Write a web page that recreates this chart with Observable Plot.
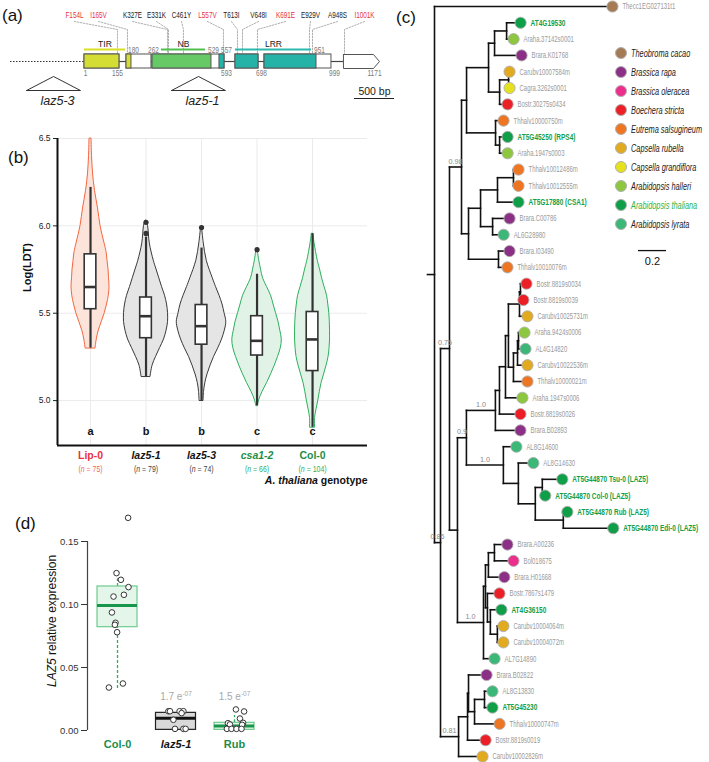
<!DOCTYPE html>
<html><head><meta charset="utf-8">
<script src="https://cdn.jsdelivr.net/npm/d3@7"></script>
<script src="https://cdn.jsdelivr.net/npm/@observablehq/plot@0.6"></script>
<style>
html,body{margin:0;padding:0;background:#fff;}
#fig{position:relative;width:709px;height:762px;overflow:hidden;font-family:"Liberation Sans",Arial,sans-serif;}
.plab{position:absolute;font-size:17px;color:#111;line-height:1;}
.legend{position:absolute;left:615px;top:43px;}
.legend .row{display:flex;align-items:center;height:19px;}
.legend .sw{width:12px;height:12px;border-radius:50%;box-sizing:border-box;border:1px solid #b0b0b0;margin-right:4px;flex:none;}
.legend .nm{display:inline-block;font-family:"Liberation Sans",Arial,sans-serif;font-style:italic;font-size:10.5px;color:#222;white-space:nowrap;transform:scaleX(0.7);transform-origin:left center;}
</style></head>
<body><div id="fig"></div>
<script>
// ===================== DATA =====================
// ---- (a) gene model (x in bp along the locus) ----
const UPSTREAM_START = -925;
const EXON_START = [0, 525, 850, 1887, 2250, 3237];
const EXON_END   = [437, 837, 1750, 2175, 3087, 3612];
const ARROW_TIP  = 3687;
const PART_START = [0, 525, 850, 1687, 1887, 2250];
const PART_END   = [437, 587, 1587, 1750, 2175, 2900];
const PART_DOMAIN = ["TIR", "TIR", "NB", "LRR", "LRR", "LRR"];
const DOMAIN_NAMES = ["TIR", "NB", "LRR"];
const DOMAIN_START = [0, 962, 1887];
const DOMAIN_END   = [512, 1512, 2837];
const UPPER_NUM    = ["180", "262", "529", "557", "951"];
const UPPER_NUM_BP = [612, 862, 1612, 1775, 2937];
const LOWER_NUM    = ["1", "155", "593", "698", "999", "1171"];
const LOWER_NUM_BP = [12, 412, 1775, 2212, 3125, 3625];
const MUT_LABELS = ["F154L","I165V","K327E","E331K","C461Y","L557V","T613I","V648I","K691E","E929V","A948S","I1001K"];
const MUT_RED    = [true, true, false, false, false, true, false, false, true, false, false, true];
const MUT_BP       = [412, 537, 1037, 1050, 1237, 1737, 1912, 1975, 2162, 2812, 2850, 3250];
const MUT_LABEL_BP = [-125, 175, 600, 900, 1212, 1537, 1837, 2175, 2512, 2825, 3162, 3500];
const INS_NAMES = ["laz5-3", "laz5-1"];
const INS_BP    = [-387, 1425];
const SCALE_BP  = 500;

// ---- (b) violin plot, Log(LDT) ----
const GENOTYPES = ["Lip-0", "laz5-1", "laz5-3", "csa1-2", "Col-0"];
const N_PLANTS  = [75, 79, 74, 66, 104];
const SIG_LETTERS = ["a", "b", "b", "c", "c"];
const B_Q1  = [5.523, 5.357, 5.320, 5.258, 5.169];
const B_MED = [5.650, 5.483, 5.426, 5.342, 5.350];
const B_Q3  = [5.837, 5.590, 5.547, 5.483, 5.507];
const B_WLO = [5.300, 5.137, 5.000, 4.970, 4.847];
const B_WHI = [6.220, 5.936, 5.873, 5.723, 5.955];
const B_OUT_GENO = ["laz5-1", "laz5-1", "laz5-3", "csa1-2"];
const B_OUT_VAL  = [6.020, 5.957, 5.990, 5.864];
// violin density profiles: [value, relative density]
const V_LIP0 = [[5.30,.20],[5.35,.25],[5.40,.33],[5.45,.45],[5.50,.57],[5.55,.66],[5.60,.73],[5.65,.76],[5.70,.74],[5.75,.72],[5.80,.68],[5.85,.64],[5.90,.56],[6.00,.40],[6.10,.30],[6.20,.18],[6.30,.10],[6.40,.06],[6.50,.04]];
const V_LAZ51 = [[5.137,.18],[5.20,.26],[5.25,.40],[5.30,.56],[5.35,.72],[5.40,.82],[5.45,.88],[5.50,.88],[5.55,.84],[5.60,.76],[5.65,.64],[5.70,.53],[5.75,.42],[5.80,.31],[5.90,.15],[6.00,.08],[6.03,.02]];
const V_LAZ53 = [[5.00,.08],[5.05,.10],[5.10,.15],[5.15,.24],[5.20,.36],[5.25,.50],[5.30,.67],[5.35,.82],[5.40,.93],[5.45,.99],[5.50,.92],[5.55,.84],[5.60,.72],[5.65,.58],[5.70,.45],[5.80,.21],[5.90,.09],[5.99,.02]];
const V_CSA12 = [[4.97,.03],[5.00,.08],[5.05,.22],[5.10,.40],[5.15,.56],[5.20,.71],[5.25,.84],[5.30,.95],[5.35,.99],[5.40,.93],[5.45,.86],[5.50,.76],[5.55,.66],[5.60,.56],[5.65,.40],[5.70,.24],[5.75,.16],[5.80,.09],[5.865,.02]];
const V_COL0 = [[4.847,.10],[4.90,.10],[4.95,.16],[5.00,.23],[5.05,.29],[5.10,.36],[5.15,.46],[5.20,.56],[5.25,.64],[5.30,.68],[5.35,.70],[5.40,.70],[5.45,.69],[5.50,.67],[5.55,.63],[5.60,.58],[5.65,.48],[5.70,.38],[5.75,.30],[5.80,.21],[5.90,.08],[5.955,.03]];
const VIOLINS = [V_LIP0, V_LAZ51, V_LAZ53, V_CSA12, V_COL0];

// ---- (d) LAZ5 relative expression ----
const D_GROUPS = ["Col-0", "laz5-1", "Rub"];
const D_Q1  = [0.0820, 0.0005, 0.0005];
const D_MED = [0.0992, 0.0098, 0.0035];
const D_Q3  = [0.1143, 0.0140, 0.0061];
const D_WLO = [0.0333, 0.0005, 0.0005];
const D_WHI = [0.1205, 0.0140, 0.0119];
const D_PVAL = ["", "1.7 e-07", "1.5 e-07"];
const D_COL0_VAL = [0.1688, 0.1249, 0.1196, 0.1138, 0.1077, 0.1063, 0.0937, 0.0855, 0.0839, 0.0780, 0.0373, 0.0341];
const D_COL0_JIT = [0.53, -0.05, 0.17, 0.55, 0.32, -0.20, -0.28, -0.10, -0.13, -0.02, 0.27, -0.43];
const D_LAZ_VAL = [0.0153, 0.0153, 0.0153, 0.0153, 0.0138, 0.0085, 0.0013, 0.0013, 0.0013];
const D_LAZ_JIT = [-0.38, -0.30, 0.18, 0.37, 0.28, -0.13, -0.05, 0.37, 0.48];
const D_RUB_VAL = [0.0167, 0.0151, 0.0095, 0.0061, 0.0058, 0.0048, 0.0045, 0.0013, 0.0013, 0.0013, 0.0013];
const D_RUB_JIT = [0.07, 0.48, 0.27, 0.43, -0.33, -0.23, 0.38, -0.38, -0.15, 0.10, 0.35];

// ---- (c) phylogeny: leaf = [name, branch length]; node = [branch length, support, children] ----
const TREE = [0.05, null, [
  ["Thecc1EG027131t1", 1.271],
  [0.043, "0.86", [
    [0.064, "0.76", [
      [0.086, "0.98", [
        [0.036, null, [
          [0.157, null, [
            [0.043, null, [
              [0.086, null, [["AT4G19530", 0.100], ["Araha.37142s0001", 0.050]]],
              ["Brara.K01768", 0.193]]],
            [0.079, null, [
              [0.064, null, [["Carubv10007584m", 0.007], ["Cagra.3262s0001", 0.007]]],
              ["Bostr.30275s0434", 0.057]]]]],
          [0.207, null, [
            ["Thhalv10000750m", 0.057],
            [0.029, null, [["AT5G45250 (RPS4)", 0.057], ["Araha.1947s0003", 0.057]]]]]]],
        [0.050, null, [
          [0.086, null, [
            [0.121, null, [
              [0.114, null, [["Thhalv10012486m", 0.036], ["Thhalv10012555m", 0.036]]],
              ["AT5G17880 (CSA1)", 0.150]]],
            [0.086, null, [["Brara.C00786", 0.121], ["AL6G28980", 0.079]]]]],
          [0.214, null, [["Brara.I03490", 0.079], ["Thhalv10010076m", 0.064]]]]]]],
      [0.057, null, [
        [0.064, "0.9", [
          [0.207, "1.0", [
            [0.029, null, [
              [0.043, null, [
                [0.021, null, [
                  [0.079, null, [
                    [0.007, null, [["Bostr.8819s0034", 0.043], ["Bostr.8819s0039", 0.021]]],
                    ["Carubv10025731m", 0.057]]],
                  [0.036, null, [
                    [0.029, null, [
                      [0.007, null, [["Araha.9424s0006", 0.043], ["AL4G14820", 0.050]]],
                      ["Carubv10022536m", 0.071]]],
                    ["Thhalv10000021m", 0.100]]]]],
                ["Araha.1947s0006", 0.121]]],
              ["Bostr.8819s0026", 0.150]]],
            ["Brara.B02893", 0.179]]],
          [0.264, "1.0", [
            ["AL8G14600", 0.093],
            [0.107, null, [
              ["AL8G14630", 0.107],
              [0.121, null, [
                [0.050, null, [["AT5G44870 Tsu-0 (LAZ5)", 0.143], ["AT5G44870 Col-0 (LAZ5)", 0.021]]],
                [0.200, null, [["AT5G44870 Rub (LAZ5)", 0.029], ["AT5G44870 Edi-0 (LAZ5)", 0.357]]]]]]]]]]],
        [0.186, "1.0", [
          [0.014, null, [
            [0.021, null, [
              [0.043, null, [["Brara.A00236", 0.093], ["Bol018675", 0.136]]],
              ["Brara.H01668", 0.114]]],
            [0.014, null, [
              ["Bostr.7867s1479", 0.086],
              [0.021, null, [
                ["AT4G36150", 0.079],
                [0.050, null, [["Carubv10004064m", 0.043], ["Carubv10004072m", 0.043]]]]]]]]],
          ["AL7G14890", 0.079]]]]]]],
    [0.129, "0.81", [
      [0.064, null, [
        [0.007, null, [
          ["Brara.B02822", 0.129],
          [0.043, null, [
            [0.071, null, [["AL8G13830", 0.057], ["AT5G45230", 0.057]]],
            ["Thhalv10000747m", 0.179]]]]],
        ["Bostr.8819s0019", 0.129]]],
      ["Carubv10002826m", 0.171]]]]]]];
const SPECIES = ["Theobroma cacao","Brassica rapa","Brassica oleracea","Boechera stricta","Eutrema salsugineum","Capsella rubella","Capsella grandiflora","Arabidopsis halleri","Arabidopsis thaliana","Arabidopsis lyrata"];
const SPECIES_PREFIX = ["Thecc","Brara","Bol","Bostr","Thhalv","Carubv","Cagra","Araha","AT","AL"];
const SCALE_BAR_LEN = 0.2;

// ===================== STYLE =====================
const SANS = '"Liberation Sans",Arial,sans-serif';
// condensed text: an unknown first family carries the horizontal compression factor
const COND = f => `"cond${f}","Liberation Sans",Arial,sans-serif`;
const SPECIES_COLORS = ["#A57B55","#8C2F86","#EC2E8C","#EC1F27","#EE7623","#E2AA1E","#E6E11D","#8DC63F","#0E9F48","#3BB877"];
const DOMAIN_COLORS = {TIR:"#D4DD34", NB:"#67C966", LRR:"#25B3A7"};
const DOMAIN_LINE = {TIR:"#D9E021", NB:"#52C04F", LRR:"#2DB7AE"};
const RED = "#E8333F", GREEN = "#1C8E4A";
const SVGNS = "http://www.w3.org/2000/svg";

const fig = document.getElementById("fig");
function place(node, left, top){ node.style.position="absolute"; node.style.left=left+"px"; node.style.top=top+"px"; fig.appendChild(node); condense(node); return node; }
function condense(svg){
  svg.querySelectorAll("[font-family]").forEach(g=>{
    const m = /cond([\d.]+)/.exec(g.getAttribute("font-family"));
    if (!m) return;
    const f = +m[1];
    g.querySelectorAll("text").forEach(t=>{
      const w = t.getComputedTextLength();
      if (w>0){ t.setAttribute("textLength", (w*f).toFixed(2)); t.setAttribute("lengthAdjust","spacingAndGlyphs"); }
    });
  });
}
function restyle(svg, full, pieces){
  svg.querySelectorAll("text").forEach(t=>{
    if (t.textContent !== full) return;
    while (t.firstChild) t.removeChild(t.firstChild);
    for (const [s,attrs] of pieces){ const ts=document.createElementNS(SVGNS,"tspan"); ts.textContent=s; for (const k in attrs) ts.setAttribute(k, attrs[k]); t.appendChild(ts); }
  });
}
function mixItalic(svg, full, part){
  const k = full.indexOf(part);
  restyle(svg, full, [[full.slice(0,k),{}],[part,{"font-style":"italic"}],[full.slice(k+part.length),{}]].filter(p=>p[0]));
}
function label(txt, left, top){ const d=document.createElement("div"); d.className="plab"; d.textContent=txt; d.style.left=left+"px"; d.style.top=top+"px"; fig.appendChild(d); }

// ===================== (a) =====================
{
  const L = {mutText:15, leadTop:21, leadBend:29, leadEnd:53, domText:43.5, domLine:49, upNum:50, exTop:54, gene:61, exBot:68, lowNum:73, triTop:76, triBase:90, insText:100, sbText:91, sbLine:98};
  const TRI_HALF = 337;
  const SB_START = 3375;
  const exons = EXON_START.slice(0,5).map((s,i)=>({s, e:EXON_END[i]}));
  const introns = EXON_START.slice(1).map((s,i)=>({s:EXON_END[i], e:s}));
  const parts = PART_START.map((s,i)=>({s, e:PART_END[i], c:DOMAIN_COLORS[PART_DOMAIN[i]]}));
  const arrow = [[EXON_START[5],L.exTop],[EXON_END[5],L.exTop],[ARROW_TIP,L.gene],[EXON_END[5],L.exBot],[EXON_START[5],L.exBot],[EXON_START[5],L.exTop]].map(([x,y])=>({x,y}));
  const domains = DOMAIN_NAMES.map((n,i)=>({n, s:DOMAIN_START[i], e:DOMAIN_END[i], c:DOMAIN_LINE[n]}));
  const leaders = MUT_LABELS.flatMap((m,i)=>[{m,x:MUT_LABEL_BP[i],y:L.leadTop},{m,x:MUT_BP[i],y:L.leadBend},{m,x:MUT_BP[i],y:L.leadEnd}]);
  const muts = MUT_LABELS.map((m,i)=>({m, x:MUT_LABEL_BP[i], c: MUT_RED[i]?RED:"#222"}));
  const tris = INS_NAMES.flatMap((n,i)=>[{n,x:INS_BP[i]-TRI_HALF,y:L.triBase},{n,x:INS_BP[i],y:L.triTop},{n,x:INS_BP[i]+TRI_HALF,y:L.triBase},{n,x:INS_BP[i]-TRI_HALF,y:L.triBase}]);
  const svg = Plot.plot({
    width:400, height:110, margin:0,
    x:{domain:[-1050,3950], axis:null},
    y:{domain:[0,110], range:[0,110], axis:null},
    color:{type:"identity"},
    style:{fontFamily:SANS, fontSize:"9px", background:"transparent", color:"#222"},
    marks:[
      Plot.line(leaders,{x:"x",y:"y",z:"m",stroke:"#9c9c9c",strokeWidth:0.8,strokeDasharray:"1.6,1.4"}),
      Plot.text(muts,{x:"x",y:()=>L.mutText,text:"m",fill:"c",fontSize:8.2,fontFamily:COND(0.78)}),
      Plot.ruleY(domains,{y:()=>L.domLine,x1:"s",x2:"e",stroke:"c",strokeWidth:2}),
      Plot.text(domains,{x:d=>(d.s+d.e)/2,y:()=>L.domText,text:"n",fontSize:9.5,fill:"#222",fontFamily:COND(0.9)}),
      Plot.text(UPPER_NUM,{x:(d,i)=>UPPER_NUM_BP[i],y:()=>L.upNum,text:d=>d,fill:"#7a7a7a",fontSize:8.2,fontFamily:COND(0.8)}),
      Plot.ruleY([L.gene],{x1:UPSTREAM_START,x2:EXON_START[0],stroke:"#333",strokeWidth:1,strokeDasharray:"1.5,1.5"}),
      Plot.ruleY(introns,{y:()=>L.gene,x1:"s",x2:"e",stroke:"#444",strokeWidth:1.2}),
      Plot.rect(exons,{x1:"s",x2:"e",y1:()=>L.exTop,y2:()=>L.exBot,fill:"white",stroke:"#555",strokeWidth:1}),
      Plot.line(arrow,{x:"x",y:"y",fill:"white",stroke:"#555",strokeWidth:1}),
      Plot.rect(parts,{x1:"s",x2:"e",y1:()=>L.exTop,y2:()=>L.exBot,fill:"c",stroke:"#555",strokeWidth:1}),
      Plot.text(LOWER_NUM,{x:(d,i)=>LOWER_NUM_BP[i],y:()=>L.lowNum,text:d=>d,fill:"#7a7a7a",fontSize:8.2,fontFamily:COND(0.8)}),
      Plot.line(tris,{x:"x",y:"y",z:"n",stroke:"#333",strokeWidth:1}),
      Plot.text(INS_NAMES,{x:(d,i)=>INS_BP[i],y:()=>L.insText,text:d=>d,dx:4,fontSize:12.5,fontStyle:"italic",fill:"#222",fontFamily:SANS}),
      Plot.ruleY([L.sbLine],{x1:SB_START,x2:SB_START+SCALE_BP,stroke:"#222",strokeWidth:1}),
      Plot.text([SCALE_BP+" bp"],{x:SB_START+SCALE_BP/2,y:()=>L.sbText,text:d=>d,fontSize:10.5,fill:"#222",fontFamily:SANS})
    ]
  });
  place(svg, 0, 0);
}

// ===================== (b) =====================
{
  const XB = [-0.595, 4.99], YB = [4.743, 6.5];
  const VSCALE = 25/55.5, BOX_HW = 0.105;
  const FILLS = ["#FCE4DA","#E5E5E5","#E5E5E5","#E1F3E6","#E1F3E6"];
  const STROKES = ["#F2673F","#3a3a3a","#3a3a3a","#2EAE5E","#2EAE5E"];
  const LABEL_COL = [RED,"#151515","#151515",GREEN,GREEN];
  const N_COL = ["#F26A5A","#444","#444","#2EAE5E","#2EAE5E"];
  const ITALIC = [false,true,true,true,false];
  const idx = GENOTYPES.map((g,i)=>i);
  const vio = GENOTYPES.flatMap((g,i)=>VIOLINS[i].map(([v,d])=>({g,i,v,d,f:FILLS[i],s:STROKES[i]})));
  const box = GENOTYPES.map((g,i)=>({g,i,q1:B_Q1[i],med:B_MED[i],q3:B_Q3[i],lo:B_WLO[i],hi:B_WHI[i]}));
  const outs = B_OUT_GENO.map((g,k)=>({i:GENOTYPES.indexOf(g), v:B_OUT_VAL[k]}));
  const xl = idx.map(i=>({i, t:GENOTYPES[i], c:LABEL_COL[i], it:ITALIC[i], n:"(n = "+N_PLANTS[i]+")", nc:N_COL[i], s:SIG_LETTERS[i]}));
  const svg = Plot.plot({
    width:380, height:385, marginLeft:57, marginRight:13, marginTop:33, marginBottom:45,
    x:{domain:XB, axis:null},
    y:{domain:YB, ticks:[5,5.5,6,6.5], tickFormat:".1f", tickSize:4, tickPadding:3, label:null},
    color:{type:"identity"},
    style:{fontFamily:SANS, fontSize:"8.5px", background:"transparent", color:"#222"},
    marks:[
      Plot.ruleY([5,5.5,6,6.5],{stroke:"#ebebeb",strokeWidth:1}),
      Plot.ruleX(idx,{x:d=>d,stroke:"#ebebeb",strokeWidth:1}),
      Plot.areaX(vio,{y:"v",x1:d=>d.i-d.d*VSCALE,x2:d=>d.i+d.d*VSCALE,z:"g",fill:"f",stroke:"s",strokeWidth:1,curve:"catmull-rom"}),
      Plot.ruleX(box,{x:"i",y1:"q3",y2:"hi",stroke:"#333",strokeWidth:2.2}),
      Plot.ruleX(box,{x:"i",y1:"lo",y2:"q1",stroke:"#333",strokeWidth:2.2}),
      Plot.rect(box,{x1:d=>d.i-BOX_HW,x2:d=>d.i+BOX_HW,y1:"q1",y2:"q3",fill:"white",stroke:"#333",strokeWidth:1.6}),
      Plot.ruleY(box,{y:"med",x1:d=>d.i-BOX_HW,x2:d=>d.i+BOX_HW,stroke:"#333",strokeWidth:2.6}),
      Plot.dot(outs,{x:"i",y:"v",r:2.6,fill:"#333"}),
      Plot.ruleX([XB[0]],{y1:YB[0],y2:YB[1],stroke:"#111",strokeWidth:2}),
      Plot.ruleY([YB[0]],{x1:XB[0],x2:XB[1],stroke:"#111",strokeWidth:2}),
      Plot.text(xl,{x:"i",frameAnchor:"bottom",dy:-11,text:"s",fontWeight:"bold",fontSize:11,fill:"#111"}),
      Plot.text(xl.filter(d=>!d.it),{x:"i",frameAnchor:"bottom",dy:13,text:"t",fill:"c",fontWeight:"bold",fontSize:10.5}),
      Plot.text(xl.filter(d=>d.it),{x:"i",frameAnchor:"bottom",dy:13,text:"t",fill:"c",fontWeight:"bold",fontStyle:"italic",fontSize:10.5}),
      Plot.text(xl,{x:"i",frameAnchor:"bottom",dy:26,text:"n",fill:"nc",fontSize:8.2,fontFamily:COND(0.85)}),
      Plot.text(["A. thaliana genotype"],{frameAnchor:"bottom-right",dy:38,textAnchor:"end",text:d=>d,fontWeight:"bold",fontSize:10.5,fill:"#111"}),
      Plot.text(["Log(LDT)"],{x:XB[0],y:YB[0]+0.58*(YB[1]-YB[0]),rotate:-90,dx:-30,textAnchor:"middle",text:d=>d,fontWeight:"bold",fontSize:11,fill:"#111"})
    ]
  });
  N_PLANTS.forEach(n=>mixItalic(svg,"(n = "+n+")","n"));
  mixItalic(svg,"A. thaliana genotype","A. thaliana");
  place(svg, 0, 105);
}

// ===================== (d) =====================
{
  const XD = [-0.513, 4.154], YD = [0, 0.15], BOX_HW = 0.342;
  const BOX_FILL = ["#E4F5E9","#D9D9D9","#E4F5E9"];
  const BOX_STROKE = ["#6DCB8D","#222","#6DCB8D"];
  const MED_COL = ["#17954A","#111","#17954A"];
  const LAB_COL = [GREEN,"#151515",GREEN];
  const box = D_GROUPS.map((g,i)=>({g,i,q1:D_Q1[i],med:D_MED[i],q3:D_Q3[i],lo:D_WLO[i],hi:D_WHI[i],f:BOX_FILL[i],s:BOX_STROKE[i],m:MED_COL[i],p:D_PVAL[i],c:LAB_COL[i]}));
  const pts = [[D_COL0_VAL,D_COL0_JIT],[D_LAZ_VAL,D_LAZ_JIT],[D_RUB_VAL,D_RUB_JIT]].flatMap(([vals,jit],i)=>vals.map((v,k)=>({i,v,j:jit[k]})));
  const svg = Plot.plot({
    width:380, height:272, marginLeft:87, marginRight:20, marginTop:51, marginBottom:32,
    x:{domain:XD, axis:null},
    y:{domain:YD, ticks:[0,0.05,0.1,0.15], tickFormat:".2f", tickSize:6, tickPadding:3, label:null},
    color:{type:"identity"},
    style:{fontFamily:SANS, fontSize:"9.5px", background:"transparent", color:"#333"},
    marks:[
      Plot.ruleX([XD[0]],{y1:YD[0],y2:YD[1],stroke:"#444",strokeWidth:1.2}),
      Plot.ruleX(box.filter(d=>d.hi>d.q3),{x:"i",y1:"q3",y2:"hi",stroke:"#2EAE5E",strokeWidth:1.3,strokeDasharray:"3,2"}),
      Plot.ruleX(box.filter(d=>d.lo<d.q1),{x:"i",y1:"lo",y2:"q1",stroke:"#2EAE5E",strokeWidth:1.3,strokeDasharray:"3,2"}),
      Plot.rect(box,{x1:d=>d.i-BOX_HW,x2:d=>d.i+BOX_HW,y1:"q1",y2:"q3",fill:"f",stroke:"s",strokeWidth:1.2}),
      Plot.ruleY(box,{y:"med",x1:d=>d.i-BOX_HW,x2:d=>d.i+BOX_HW,stroke:"m",strokeWidth:3}),
      Plot.dot(pts,{x:d=>d.i+d.j*BOX_HW,y:"v",r:2.8,fill:"white",stroke:"#333",strokeWidth:1}),
      Plot.text(box.filter(d=>d.p),{x:"i",frameAnchor:"bottom",dy:-31,text:"p",fill:"#a8a8a8",fontSize:10}),
      Plot.text(box.filter(d=>d.g!=="laz5-1"),{x:"i",frameAnchor:"bottom",dy:17,text:"g",fill:"c",fontWeight:"bold",fontSize:11,fontFamily:SANS}),
      Plot.text(box.filter(d=>d.g==="laz5-1"),{x:"i",frameAnchor:"bottom",dy:17,text:"g",fill:"c",fontWeight:"bold",fontStyle:"italic",fontSize:11,fontFamily:SANS}),
      Plot.text(["LAZ5 relative expression"],{x:XD[0],y:YD[0]+0.58*(YD[1]-YD[0]),rotate:-90,dx:-35,textAnchor:"middle",text:d=>d,fontSize:12,fill:"#111",fontFamily:SANS})
    ]
  });
  mixItalic(svg,"LAZ5 relative expression","LAZ5");
  D_PVAL.filter(p=>p).forEach(p=>{
    const [base, exp] = p.split("e");
    restyle(svg, p, [[base+"e",{}],[exp,{"font-size":"6.5","dy":"-4"}]]);
  });
  place(svg, 0, 490);
}

// ===================== (c) =====================
{
  const nodes = []; let leafIdx = 0;
  function walk(n, parentX){
    if (typeof n[0] === "string"){
      const nd = {name:n[0], px:parentX, x:parentX+n[1], y:leafIdx++, leaf:true};
      nodes.push(nd); return nd;
    }
    const [len, support, kids] = n;
    const nd = {support, px:parentX, x:parentX+len, leaf:false};
    const cs = kids.map(k=>walk(k, nd.x));
    nd.y1 = cs[0].y; nd.y2 = cs[cs.length-1].y; nd.y = (nd.y1+nd.y2)/2;
    nodes.push(nd); return nd;
  }
  walk(TREE, 0);
  const leaves = nodes.filter(d=>d.leaf);
  const internal = nodes.filter(d=>!d.leaf);
  const spColor = name => { const k = SPECIES_PREFIX.findIndex(p=>name.startsWith(p)); return SPECIES_COLORS[k]; };
  const isAT = name => name.startsWith("AT");
  const SB_X = 1.507, SB_Y = 14.97;
  const svg = Plot.plot({
    width:329, height:762, marginLeft:47, marginRight:0, marginTop:6, marginBottom:6,
    x:{domain:[0, 282/140], axis:null},
    y:{domain:[0, 46], reverse:true, axis:null},
    color:{type:"identity"},
    style:{fontFamily:SANS, fontSize:"9px", background:"transparent"},
    marks:[
      Plot.link(nodes,{x1:"px",x2:"x",y1:"y",y2:"y",stroke:"#111",strokeWidth:1.6,strokeLinecap:"square"}),
      Plot.link(internal,{x1:"x",x2:"x",y1:"y1",y2:"y2",stroke:"#111",strokeWidth:1.6,strokeLinecap:"square"}),
      Plot.text(internal.filter(d=>d.support),{x:d=>(d.px+d.x)/2,y:"y",text:"support",dy:-6,fill:"#8a8a8a",fontSize:8,fontFamily:COND(0.9)}),
      Plot.dot(leaves,{x:"x",y:"y",r:5.6,fill:d=>spColor(d.name),stroke:"#b0b0b0",strokeWidth:0.9}),
      Plot.text(leaves.filter(d=>!isAT(d.name)),{x:"x",y:"y",text:"name",dx:10,textAnchor:"start",fill:"#9a9a9a",fontSize:9,fontFamily:COND(0.66)}),
      Plot.text(leaves.filter(d=>isAT(d.name)),{x:"x",y:"y",text:"name",dx:10,textAnchor:"start",fill:"#13A04A",fontWeight:"bold",fontSize:9,fontFamily:COND(0.72)}),
      Plot.ruleY([SB_Y],{x1:SB_X,x2:SB_X+SCALE_BAR_LEN,stroke:"#111",strokeWidth:1.3}),
      Plot.text([String(SCALE_BAR_LEN)],{x:SB_X+SCALE_BAR_LEN/2,y:SB_Y,dy:11,text:d=>d,fontSize:11,fill:"#111",fontFamily:SANS})
    ]
  });
  place(svg, 380, 0);

  const lg = document.createElement("div"); lg.className = "legend";
  SPECIES.forEach((s,i)=>{
    const r = document.createElement("div"); r.className="row";
    const sw = document.createElement("span"); sw.className="sw"; sw.style.background=SPECIES_COLORS[i];
    const nm = document.createElement("span"); nm.className="nm"; nm.textContent=s;
    if (s==="Arabidopsis thaliana") nm.style.color="#2FB34A";
    r.appendChild(sw); r.appendChild(nm); lg.appendChild(r);
  });
  fig.appendChild(lg);
}

label("(a)", 2, 7);
label("(b)", 8, 149);
label("(c)", 396, 9);
label("(d)", 15, 515);
</script>
</body></html>
